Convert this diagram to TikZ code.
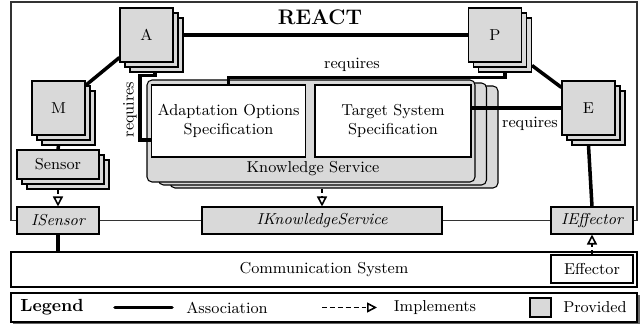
\documentclass[tikz,border=0pt]{standalone}
\usetikzlibrary{shadows,arrows.meta}
\begin{document}
\begin{tikzpicture}[
    line width=0.6pt,
    every node/.style={font=\small},
    component/.style={draw, fill=black!15, minimum width=1.06cm, minimum height=1.08cm,
        copy shadow={shadow xshift=0.2cm, shadow yshift=-0.2cm, fill=black!15, draw=black},
        copy shadow={shadow xshift=0.1cm, shadow yshift=-0.1cm, fill=black!15, draw=black}},
    sensorbox/.style={draw, fill=black!15, minimum width=1.64cm, minimum height=0.58cm,
        copy shadow={shadow xshift=0.2cm, shadow yshift=-0.2cm, fill=black!15, draw=black},
        copy shadow={shadow xshift=0.1cm, shadow yshift=-0.1cm, fill=black!15, draw=black}},
    service/.style={draw, fill=black!15, rounded corners=0.1cm, minimum width=6.56cm, minimum height=2.04cm,
        copy shadow={shadow xshift=0.46cm, shadow yshift=-0.12cm, fill=black!15, draw=black},
        copy shadow={shadow xshift=0.23cm, shadow yshift=-0.06cm, fill=black!15, draw=black}},
    spec/.style={draw, fill=white, align=center, minimum height=1.44cm},
    interface/.style={draw, fill=black!15, font=\small\itshape, minimum width=1.64cm, minimum height=0.54cm},
    frame/.style={draw=black!80},
    association/.style={line width=2pt},
    implements/.style={line width=0.9pt, dash pattern=on 2.8pt off 1.7pt,
        -{Triangle[open, length=0.2cm, width=0.2cm, line width=0.9pt]}}
]
\useasboundingbox (0,0) rectangle (12.84,6.5);
% REACT
\node[frame, minimum width=12.52cm, minimum height=4.37cm] (react) at (6.48,4.275) {};
\node[font=\large\bfseries] (title) at (6.4,6.16) {REACT};
% Components
\node[component] (A) at (2.93,5.80) {A};
\node[component] (P) at (9.90,5.80) {P};
\node[component] (M) at (1.17,4.34) {M};
\node[component] (E) at (11.77,4.34) {E};
\node[sensorbox] (sensor) at (1.16,3.21) {Sensor};
% Knowledge service
\node[service] (ks) at (6.22,3.88) {};
\node (kslabel) at (6.26,3.12) {Knowledge Service};
\node[spec, minimum width=3.06cm] (adapt) at (4.57,4.08) {Adaptation Options\\Specification};
\node[spec, minimum width=3.12cm] (target) at (7.86,4.08) {Target System\\Specification};
% Interfaces
\node[interface] (isensor) at (1.16,2.09) {ISensor};
\node[interface, minimum width=4.8cm] (iks) at (6.44,2.09) {IKnowledgeService};
\node[interface] (ieffector) at (11.84,2.09) {IEffector};
% Communication system
\node[draw, fill=white, minimum width=12.52cm, minimum height=0.7cm] (comm) at (6.48,1.11) {Communication System};
\node[draw, fill=white, minimum width=1.64cm, minimum height=0.56cm] (effector) at (11.84,1.12) {Effector};
% Associations
\draw[association] ([xshift=0.2cm]A.east) -- (P.west);
\draw[association] ([yshift=0.1cm]A.south west) -- ([yshift=-0.1cm]M.north east);
\draw[association] ([xshift=0.2cm,yshift=-0.06cm]P.south east) -- ([yshift=-0.14cm]E.north west);
\draw[association] ([yshift=-0.2cm]M.south) -- (sensor.north);
\draw[association] ([yshift=-0.2cm]E.south) -- (ieffector.north);
\draw[association] (isensor.south) -- (isensor.south |- comm.north);
\draw[association] (E.west -| target.east) -- (E.west) node[pos=0.65, below=1pt] (req3) {requires};
\draw[association] ([xshift=0.17cm,yshift=-0.2cm]A.south) -- ++(0,-0.06) -| ([xshift=-0.22cm,yshift=-0.38cm]adapt.west) -- ([yshift=-0.38cm]adapt.west);
\draw[association] ([xshift=0.2cm,yshift=-0.2cm]P.south) -- ++(0,-0.1) -| (adapt.north);
\node[rotate=90] (req1) at (2.6,4.31) {requires};
\node (req2) at (7.04,5.2) {requires};
% Implements
\draw[implements] ([yshift=-0.2cm]sensor.south) -- (isensor.north);
\draw[implements] ([yshift=-0.12cm]iks.north |- ks.south) -- (iks.north);
\draw[implements] (effector.north) -- (ieffector.south);
% Legend
\node[draw, fill=white, drop shadow={shadow xshift=0.05cm, shadow yshift=-0.05cm, fill=black!60, opacity=1},
    minimum width=12.52cm, minimum height=0.58cm] (legend) at (6.48,0.35) {};
\node[font=\normalsize\bfseries] (legendtitle) at (1.04,0.35) {Legend};
\coordinate (assocstart) at (2.3,0.35);
\coordinate (assocend) at (3.44,0.35);
\draw[association, line cap=round] (assocstart) -- (assocend);
\node (assoclabel) at (4.54,0.35) {Association};
\coordinate (implstart) at (6.44,0.35);
\coordinate (implend) at (7.54,0.35);
\draw[implements] (implstart) -- (implend);
\node (impllabel) at (8.7,0.35) {Implements};
\node[draw, fill=black!15, minimum width=0.42cm, minimum height=0.38cm] (provbox) at (10.81,0.35) {};
\node (provlabel) at (11.9,0.35) {Provided};
\end{tikzpicture}
\end{document}
